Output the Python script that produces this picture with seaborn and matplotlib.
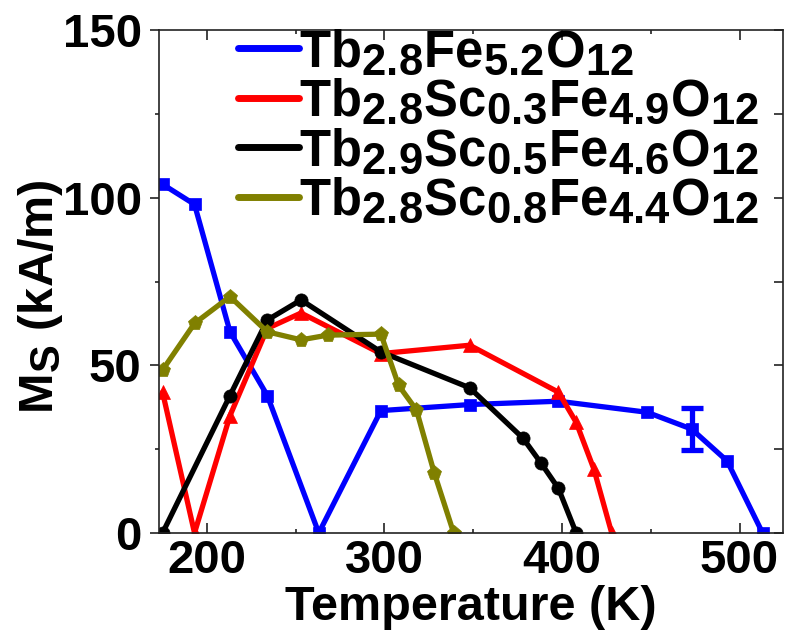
import numpy as np
import pandas as pd
import matplotlib
matplotlib.use("Agg")
import matplotlib.pyplot as plt
import matplotlib._mathtext as _mt
import seaborn as sns

# ---- data ----
labels = [r"$\mathrm{Tb_{2.8}Fe_{5.2}O_{12}}$",
          r"$\mathrm{Tb_{2.8}Sc_{0.3}Fe_{4.9}O_{12}}$",
          r"$\mathrm{Tb_{2.9}Sc_{0.5}Fe_{4.6}O_{12}}$",
          r"$\mathrm{Tb_{2.8}Sc_{0.8}Fe_{4.4}O_{12}}$"]

T_blue = [175, 193, 213, 234, 263, 298, 348, 398, 448, 473, 493, 513]
M_blue = [104, 98, 60, 41, 0, 36.5, 38.3, 39.3, 36, 31, 21.5, 0]

T_red = [175, 193, 213, 234, 253, 298, 348, 398, 408, 418, 428]
M_red = [42, 0, 35, 61, 65.6, 53.5, 56, 42, 33, 19, 0]

T_black = [175, 213, 234, 253, 298, 348, 378, 388, 398, 408]
M_black = [0, 41, 63.5, 69.5, 54, 43.3, 28.3, 21, 13.3, 0]

T_olive = [175, 193, 213, 234, 253, 268, 298, 308, 318, 328, 339]
M_olive = [48.6, 62.5, 70.5, 60, 57.6, 59, 59.3, 44, 36.7, 18, 0]

err_T = [473]
err_M = [31]
err_val = [6.3]

xticks = [200, 300, 400, 500]
yticks = [0, 50, 100, 150]

# larger subscripts, as in the reference
_mt.SHRINK_FACTOR = 0.86

sns.set_style("ticks")
plt.rcParams['font.family'] = ['Liberation Sans', 'DejaVu Sans']
plt.rcParams['font.weight'] = 'bold'
plt.rcParams['text.color'] = 'black'
plt.rcParams['axes.labelcolor'] = 'black'
plt.rcParams['xtick.labelcolor'] = 'black'
plt.rcParams['ytick.labelcolor'] = 'black'
plt.rcParams['mathtext.fontset'] = 'custom'
plt.rcParams['mathtext.rm'] = 'Liberation Sans:bold'
plt.rcParams['mathtext.it'] = 'Liberation Sans:bold'
plt.rcParams['mathtext.bf'] = 'Liberation Sans:bold'

fig = plt.figure(figsize=(7.86, 6.37), dpi=100)
ax = fig.add_axes([159/786, 104/637, 624/786, 503/637])

series = [
    (T_blue, M_blue, "#0000ff", "s", 8.5, labels[0]),
    (T_red, M_red, "#ff0000", "^", 10.0, labels[1]),
    (T_black, M_black, "#000000", "o", 9.5, labels[2]),
    (T_olive, M_olive, "#808000", "p", 11.0, labels[3]),
]
for T, M, c, mk, ms, lab in series:
    df = pd.DataFrame({"T": T, "M": M})
    sns.lineplot(data=df, x="T", y="M", ax=ax, color=c, lw=3.8,
                 marker=mk, markersize=ms, markeredgecolor=c,
                 markeredgewidth=0.5, label=lab, legend=False)

ax.errorbar(err_T, err_M, yerr=err_val, fmt='none', ecolor="#0000ff",
            elinewidth=3.8, capsize=8, capthick=3.8)

ax.set_xlim(173, 524.5)
ax.set_ylim(0, 150)
ax.set_xticks(xticks)
ax.set_yticks(yticks)
ax.set_xticks([250, 350, 450], minor=True)
ax.set_yticks([25, 75, 125], minor=True)

for s in ax.spines.values():
    s.set_visible(True)
    s.set_linewidth(1.2)
    s.set_color("#222222")

ax.tick_params(axis='x', which='major', direction='in', length=7.2, width=1.2,
               labelsize=34, pad=4, top=True, color="#222222")
ax.tick_params(axis='x', which='minor', direction='in', length=3, width=1.2,
               top=True, color="#222222")
ax.tick_params(axis='y', which='major', direction='out', length=6.5, width=1.2,
               labelsize=34, pad=6, color="#222222")
ax.tick_params(axis='y', which='minor', direction='out', length=3, width=1.2,
               color="#222222")
ax.tick_params(axis='y', which='both', right=True)
for t in ax.yaxis.get_major_ticks() + ax.yaxis.get_minor_ticks():
    t.tick2line.set_marker(matplotlib.markers.TICKLEFT)
    t.tick2line.set_markersize(6.5)
for lab in ax.get_xticklabels() + ax.get_yticklabels():
    lab.set_fontweight('bold')

ax.set_xlabel("Temperature (K)", fontsize=35, fontweight='bold', labelpad=2)
ax.set_ylabel(r"M$_\mathrm{S}$ (kA/m)", fontsize=35, fontweight='bold')
ax.yaxis.set_label_coords(-0.15, 0.47)

leg = ax.legend(loc='upper left', bbox_to_anchor=(0.11, 1.025), frameon=False,
                fontsize=36.5, handlelength=1.2, handletextpad=0.0,
                labelspacing=0.0, borderpad=0.0, borderaxespad=0.2)
for line in leg.get_lines():
    line.set_linewidth(5)
    line.set_marker('')

fig.savefig("out.png", dpi=100)
